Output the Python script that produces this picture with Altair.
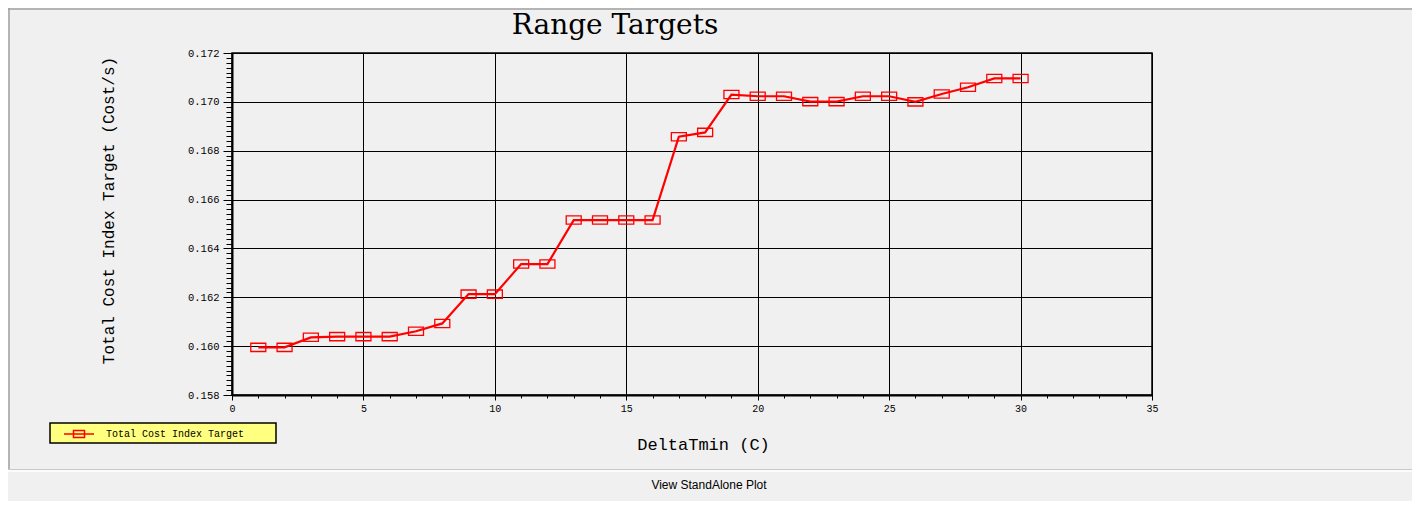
import altair as alt
import pandas as pd

# ---- data ----
delta_tmin = list(range(1, 31))
cost_index = [0.15995, 0.15995, 0.16036, 0.16039, 0.16039, 0.16039, 0.16061, 0.16093,
              0.16213, 0.16213, 0.16336, 0.16336, 0.16516, 0.16516, 0.16516, 0.16516,
              0.16857, 0.16875, 0.17030, 0.17023, 0.17023, 0.17001, 0.17001, 0.17023,
              0.17023, 0.17000, 0.17032, 0.17060, 0.17096, 0.17096]
series_name = ["Total Cost Index Target"] * len(delta_tmin)

x_ticks = list(range(0, 36))
y_ticks = [round(0.158 + i * 0.0002, 4) for i in range(71)]

chart_title = ["Range Targets"]
footer_text = ["View StandAlone Plot"]

df = pd.DataFrame({"DeltaTmin": delta_tmin, "Cost": cost_index, "series": series_name})

MONO = "Liberation Mono"
RECT = "M-1,-0.55H1V0.55H-1Z"
LEGEND_SYMBOL = "M-3,0H3M-1.1,-0.7H1.1V0.7H-1.1Z"

x_major = "datum.value % 5 == 0"
y_major = "round(datum.value * 10000) % 20 == 0"

x_axis = alt.Axis(
    values=x_ticks,
    title="DeltaTmin (C)",
    titleFont=MONO, titleFontSize=17, titleFontWeight="normal", titleColor="#000",
    titleX=471, titleY=49, titleBaseline="middle", titleAlign="center", titleAngle=0,
    labelExpr=f"{x_major} ? datum.label : ''",
    labelFont=MONO, labelFontSize=10, labelColor="#000", labelPadding=3,
    labelOverlap=False, labelFlush=False,
    tickSize={"condition": {"test": x_major, "value": 5}, "value": 3},
    tickColor="#000", tickWidth=1,
    grid=True, gridColor="#000", gridWidth=1,
    gridOpacity={"condition": {"test": x_major, "value": 1}, "value": 0},
    domainColor="#000", domainWidth=2,
)

y_axis = alt.Axis(
    values=y_ticks,
    title="Total Cost Index Target (Cost/s)",
    titleFont=MONO, titleFontSize=16, titleFontWeight="normal", titleColor="#000",
    titleX=-124, titleY=157, titleBaseline="middle", titleAlign="center", titleAngle=270,
    labelExpr=f"{y_major} ? format(datum.value, '.3f') : ''",
    labelFont=MONO, labelFontSize=10.5, labelColor="#000", labelPadding=4,
    labelOverlap=False, labelFlush=False,
    tickSize={"condition": {"test": y_major, "value": 9}, "value": 6},
    tickColor="#000", tickWidth=1,
    grid=True, gridColor="#000", gridWidth=1,
    gridOpacity={"condition": {"test": y_major, "value": 1}, "value": 0},
    domainColor="#000", domainWidth=2,
)

x_enc = alt.X("DeltaTmin:Q", scale=alt.Scale(domain=[0, 35], nice=False), axis=x_axis)
y_enc = alt.Y("Cost:Q", scale=alt.Scale(domain=[0.158, 0.172], nice=False, zero=False), axis=y_axis)

base = alt.Chart(df)

line = base.mark_line(color="#ff0000", strokeWidth=2.2).encode(x=x_enc, y=y_enc)

points = base.mark_point(shape=RECT, size=225, filled=False, strokeWidth=1.3, opacity=1).encode(
    x=x_enc,
    y=y_enc,
    color=alt.Color(
        "series:N",
        scale=alt.Scale(range=["#ff0000"]),
        legend=alt.Legend(
            title=None, orient="none", legendX=-182, legendY=370, padding=5,
            labelFont=MONO, labelFontSize=10, labelColor="#000",
            symbolType=LEGEND_SYMBOL, symbolSize=100, symbolFillColor="transparent",
            symbolStrokeWidth=1.5, symbolOffset=18, labelOffset=21,
        ),
    ),
)

one = pd.DataFrame({"a": [0]})

legend_box = alt.Chart(one).mark_rect(fill="#ffff80", stroke="#000", strokeWidth=1.5).encode(
    x=alt.value(-182), x2=alt.value(44), y=alt.value(370), y2=alt.value(390))

title_mark = alt.Chart(pd.DataFrame({"label": chart_title})).mark_text(
    font="DejaVu Serif", fontSize=28, color="#000", align="center", baseline="alphabetic"
).encode(x=alt.value(383), y=alt.value(-19), text="label:N")

footer = alt.Chart(pd.DataFrame({"label": footer_text})).mark_text(
    font="Liberation Sans", fontSize=12, color="#000", align="center", baseline="middle"
).encode(x=alt.value(477), y=alt.value(432), text="label:N")

divider_dark = alt.Chart(one).mark_rule(color="#c8c8c8", strokeWidth=1).encode(
    x=alt.value(-224), x2=alt.value(1180), y=alt.value(416.5))
divider_light = alt.Chart(one).mark_rule(color="#ffffff", strokeWidth=1.5).encode(
    x=alt.value(-224), x2=alt.value(1180), y=alt.value(418))
frame_left = alt.Chart(one).mark_rule(color="#a0a0a0", strokeWidth=1.5).encode(
    x=alt.value(-223), y=alt.value(-45), y2=alt.value(416))
frame_top = alt.Chart(one).mark_rule(color="#a0a0a0", strokeWidth=1.5).encode(
    x=alt.value(-224), x2=alt.value(1180), y=alt.value(-44))

chart = alt.layer(
    frame_left, frame_top, divider_dark, divider_light, footer, title_mark, legend_box, line, points
).properties(
    width=920,
    height=342,
    autosize=alt.AutoSizeParams(type="none"),
    padding={"left": 224, "top": 45, "right": 260, "bottom": 106},
    background="#f0f0f0",
).configure_view(
    stroke="#000", strokeWidth=1.5
)

chart.save("out.html", embed_options={"renderer": "svg", "actions": False})
